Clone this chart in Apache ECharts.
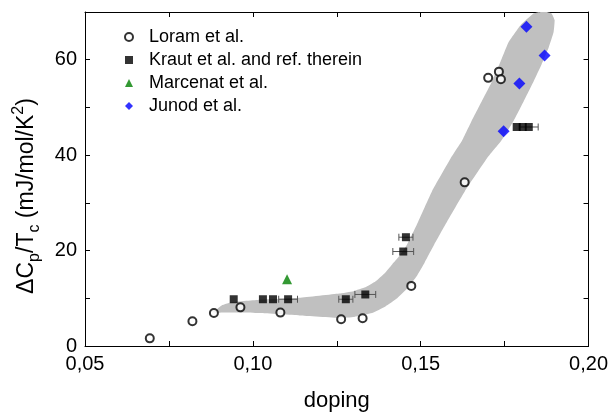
<!DOCTYPE html>
<html>
<head>
<meta charset="utf-8">
<script src="https://cdn.jsdelivr.net/npm/echarts@6/dist/echarts.min.js"></script>
<style>html,body{margin:0;padding:0;background:#fff;}#c{width:611px;height:417px;}</style>
</head>
<body>
<div id="c"></div>
<script>
// ---- data ----
const loramX = [0.0693, 0.0820, 0.0884, 0.0963, 0.1082, 0.1263, 0.1327, 0.1472, 0.1631, 0.1701, 0.1733, 0.1739];
const loramY = [1.6, 5.2, 6.9, 8.1, 7.0, 5.6, 5.8, 12.6, 34.3, 56.2, 57.5, 55.9];

const krautX = [0.0943, 0.1030, 0.1060, 0.1105, 0.1277, 0.1335, 0.1456, 0.1448, 0.1786, 0.1804, 0.1822];
const krautY = [9.8, 9.8, 9.8, 9.8, 9.8, 10.8, 22.8, 19.8, 45.9, 45.9, 45.9];
const krautErr = [0, 0, 0, 0.0028, 0.0021, 0.0031, 0.0021, 0.0031, 0, 0, 0.0028];

const marcenatX = [0.1102];
const marcenatY = [14.0];

const junodX = [0.1747, 0.1794, 0.1815, 0.1869];
const junodY = [45.0, 55.0, 66.9, 60.9];

// gray guide band outline (doping, value)
const bandX = [0.0880, 0.0889, 0.0907, 0.0940, 0.1020, 0.1139, 0.1257, 0.1300, 0.1335, 0.1365, 0.1392, 0.1415, 0.1436, 0.1459, 0.1489, 0.1534, 0.1589, 0.1623, 0.1652, 0.1682, 0.1712, 0.1738, 0.1762, 0.1798, 0.1836, 0.1869, 0.1890, 0.1899, 0.1896, 0.1881, 0.1860, 0.1836, 0.1807, 0.1777, 0.1740, 0.1697, 0.1632, 0.1574, 0.1540, 0.1512, 0.1488, 0.1462, 0.1430, 0.1395, 0.1355, 0.1302, 0.1257, 0.1139, 0.1020, 0.0916, 0.0892];
const bandY = [7.2, 7.5, 8.5, 9.2, 9.7, 10.1, 11.0, 11.5, 12.3, 13.5, 15.2, 17.1, 18.8, 21.2, 25.5, 32.5, 39.3, 43.0, 47.2, 51.3, 55.4, 59.6, 63.7, 67.3, 69.7, 70.1, 69.7, 68.3, 65.8, 62.5, 59.0, 55.4, 51.3, 47.2, 43.0, 39.3, 32.5, 25.5, 21.2, 17.5, 14.6, 12.2, 10.0, 8.3, 6.9, 6.1, 5.9, 6.4, 6.9, 7.0, 6.95];

const xTicks = ['0,05', '0,10', '0,15', '0,20'];
const yTicks = ['0', '20', '40', '60'];

// ---- chart ----
const FONT = 'Liberation Sans, Arial, sans-serif';
const chart = echarts.init(document.getElementById('c'), null, {renderer: 'canvas'});

const zip = (xs, ys) => xs.map((x, i) => [x, ys[i]]);

function frame() {
  return {
    axisLine: {show: true, onZero: false, lineStyle: {color: '#000', width: 1}},
    axisTick: {show: true, inside: true, length: 5, lineStyle: {color: '#000', width: 1}},
    minorTick: {show: false},
    splitLine: {show: false},
    minorSplitLine: {show: false}
  };
}

const option = {
  animation: false,
  backgroundColor: '#fff',
  grid: {left: 85, right: 21, top: 12, bottom: 67, containLabel: false},
  legend: {
    data: ['Loram et al.', 'Kraut et al. and ref. therein', 'Marcenat et al.', 'Junod et al.'],
    orient: 'vertical',
    left: 119, top: 23,
    itemWidth: 8, itemHeight: 8, itemGap: 5,
    textStyle: {fontFamily: FONT, fontSize: 18, color: '#000', lineHeight: 18, padding: [0, 0, 0, 11]},
    selectedMode: false
  },
  xAxis: [
    Object.assign(frame(), {
      type: 'value', position: 'bottom', min: 0.05, max: 0.20, interval: 0.025,
      name: 'doping', nameLocation: 'middle', nameGap: 44,
      nameTextStyle: {fontFamily: FONT, fontSize: 22, color: '#000'},
      axisLabel: {fontFamily: FONT, fontSize: 20, color: '#000', margin: 8, showMinLabel: true, showMaxLabel: true,
        formatter: v => { const k = Math.round(v / 0.025); return k % 2 === 0 ? xTicks[(k - 2) / 2] : ''; }}
    }),
    Object.assign(frame(), {
      type: 'value', position: 'top', min: 0.05, max: 0.20, interval: 0.025,
      axisLabel: {show: false}
    })
  ],
  yAxis: [
    Object.assign(frame(), {
      type: 'value', position: 'left', min: 0, max: 70, interval: 10,
      name: '{a|ΔC}{s|p}{a|/T}{s|c}{a| (mJ/mol/K}{u|2}{a|)}',
      nameLocation: 'middle', nameGap: 42, nameRotate: 90,
      nameTextStyle: {
        fontFamily: FONT, fontSize: 23, color: '#000', padding: [0, 34, 0, 0],
        rich: {
          a: {fontFamily: FONT, fontSize: 23, color: '#000', lineHeight: 32, verticalAlign: 'middle'},
          s: {fontFamily: FONT, fontSize: 16, color: '#000', lineHeight: 16, verticalAlign: 'bottom'},
          u: {fontFamily: FONT, fontSize: 16, color: '#000', lineHeight: 16, verticalAlign: 'top'}
        }
      },
      axisLabel: {fontFamily: FONT, fontSize: 20, color: '#000', margin: 8,
        formatter: v => { const k = Math.round(v / 10); return (k % 2 === 0 && k <= 6) ? yTicks[k / 2] : ''; }}
    }),
    Object.assign(frame(), {
      type: 'value', position: 'right', min: 0, max: 70, interval: 10,
      axisLabel: {show: false}
    })
  ],
  series: [
    {
      type: 'custom', name: 'band', silent: true, z: 1,
      data: [[0]],
      renderItem: function (params, api) {
        const pts = bandX.map((x, i) => api.coord([x, bandY[i]]));
        return {
          type: 'polygon',
          shape: {points: pts, smooth: 0.1},
          style: {fill: '#c0c0c0', stroke: null},
          clipPath: {type: 'rect', shape: {x: params.coordSys.x, y: params.coordSys.y, width: params.coordSys.width, height: params.coordSys.height}}
        };
      }
    },
    {
      type: 'custom', name: 'errors', silent: true, z: 2,
      data: krautX.map((x, i) => [x, krautY[i], krautErr[i]]),
      renderItem: function (params, api) {
        const e = api.value(2);
        if (!e) return null;
        const x = api.value(0), y = api.value(1);
        const p1 = api.coord([x - e, y]);
        const p2 = api.coord([x + e, y]);
        const st = {stroke: '#555', lineWidth: 1};
        return {
          type: 'group',
          children: [
            {type: 'line', shape: {x1: p1[0], y1: p1[1], x2: p2[0], y2: p2[1]}, style: st},
            {type: 'line', shape: {x1: p1[0], y1: p1[1] - 3.5, x2: p1[0], y2: p1[1] + 3.5}, style: st},
            {type: 'line', shape: {x1: p2[0], y1: p2[1] - 3.5, x2: p2[0], y2: p2[1] + 3.5}, style: st}
          ]
        };
      }
    },
    {
      type: 'scatter', name: 'Loram et al.', z: 5,
      data: zip(loramX, loramY),
      symbol: 'circle', symbolSize: 8,
      itemStyle: {color: '#fff', borderColor: '#000', borderWidth: 2}
    },
    {
      type: 'scatter', name: 'Kraut et al. and ref. therein', z: 4,
      data: zip(krautX, krautY),
      symbol: 'rect', symbolSize: 8,
      itemStyle: {color: '#000'}
    },
    {
      type: 'scatter', name: 'Marcenat et al.', z: 4,
      data: zip(marcenatX, marcenatY),
      symbol: 'triangle', symbolSize: 10,
      itemStyle: {color: '#008000'}
    },
    {
      type: 'scatter', name: 'Junod et al.', z: 4,
      data: zip(junodX, junodY),
      symbol: 'diamond', symbolSize: 12,
      itemStyle: {color: '#0000ff'}
    }
  ]
};
chart.setOption(option);
</script>
</body>
</html>
